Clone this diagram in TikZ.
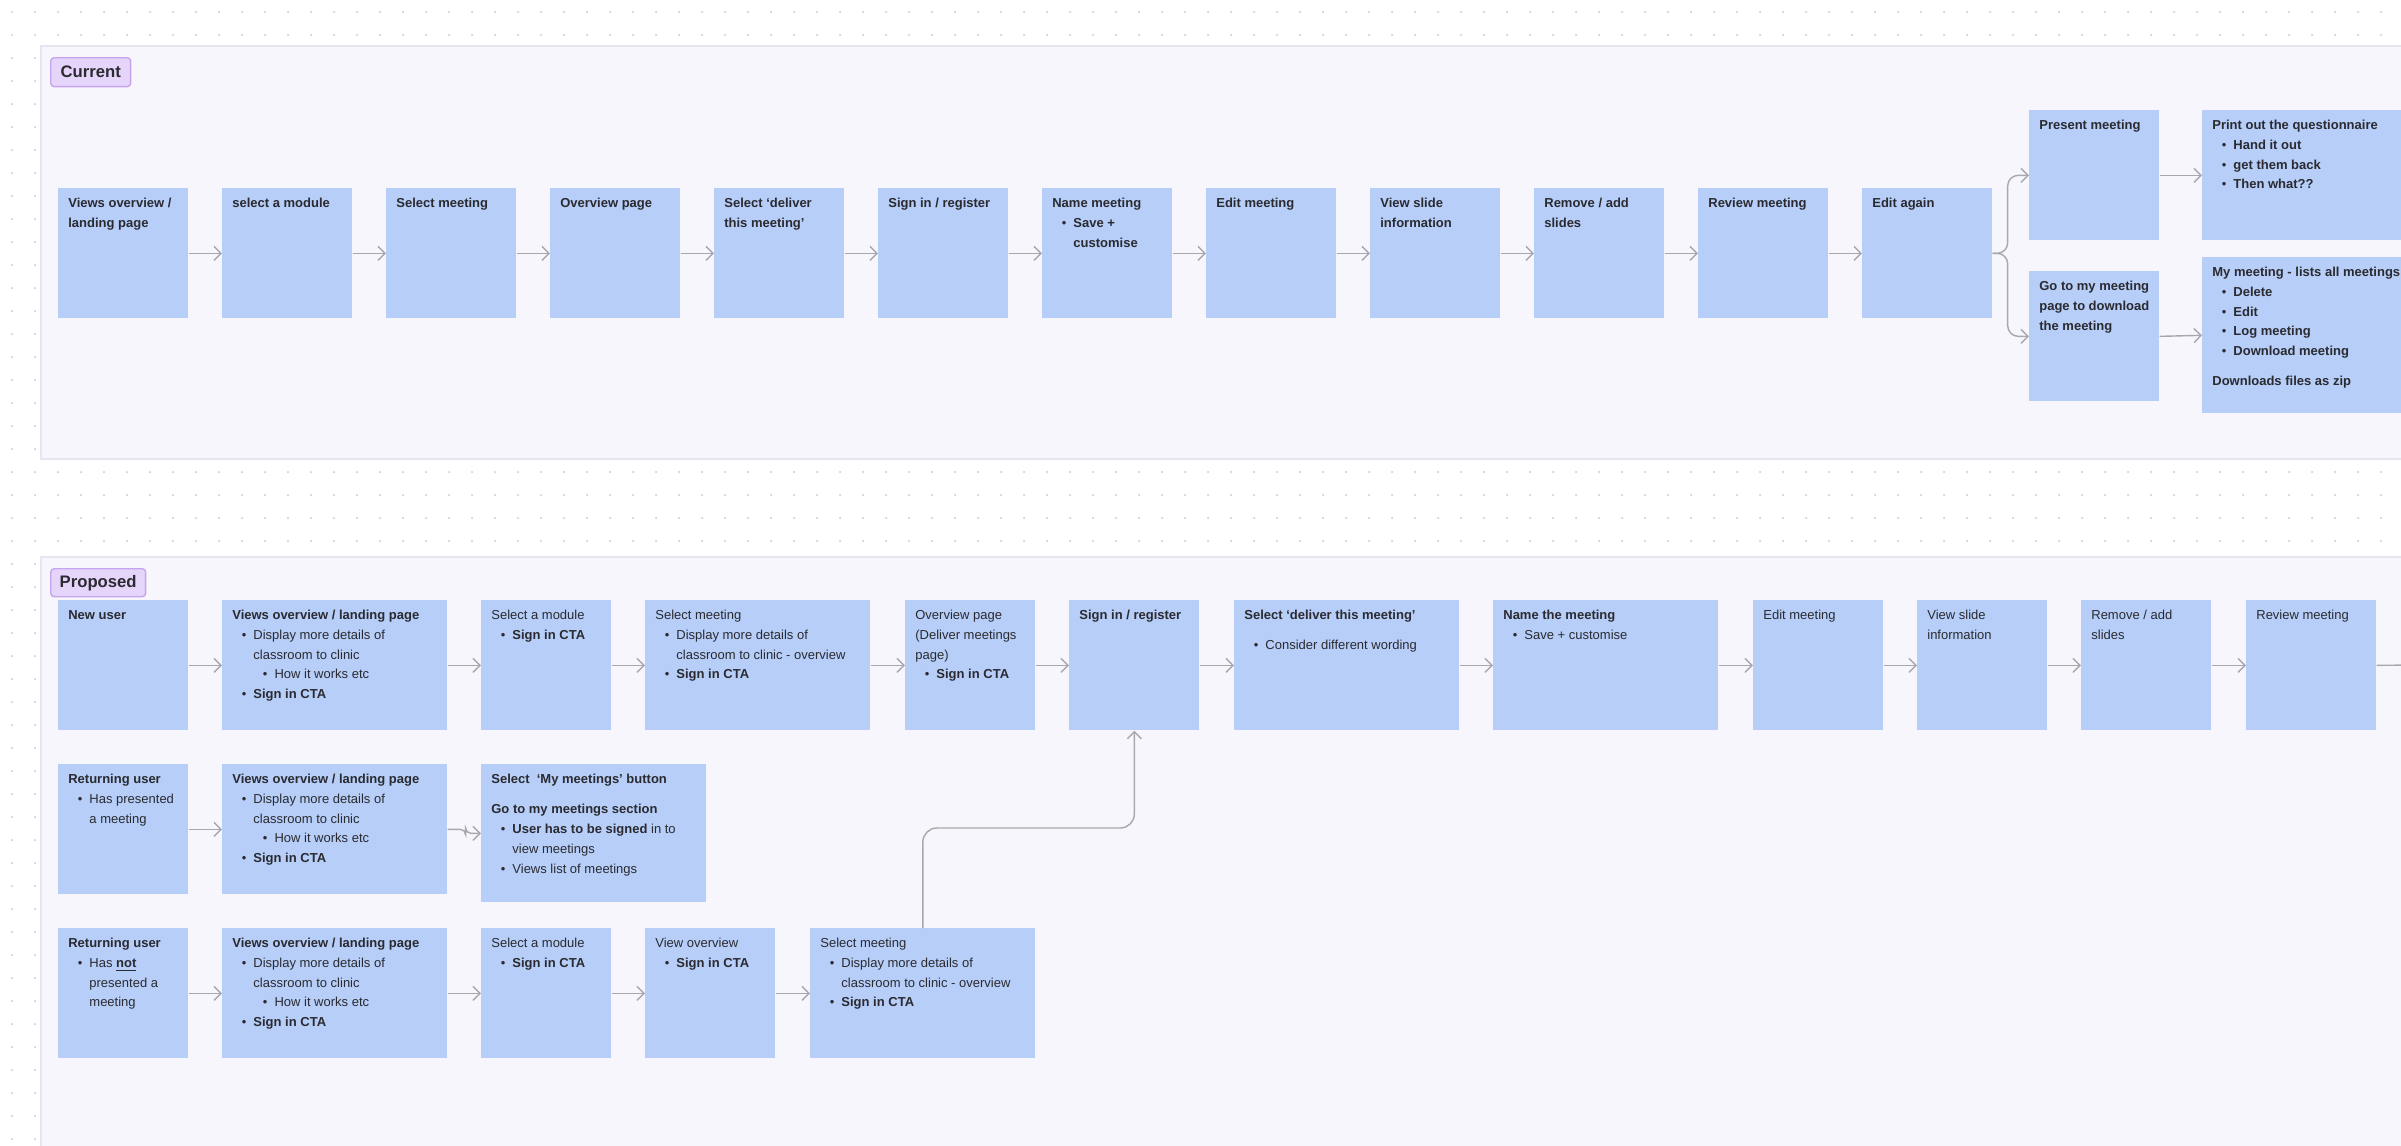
\documentclass[tikz,border=0pt]{standalone}
\usepackage{fontspec}
\setmainfont{Liberation Sans}
\usetikzlibrary{arrows.meta}

\definecolor{cardblue}{HTML}{B6CEF8}
\definecolor{panelbg}{HTML}{F8F6FD}
\definecolor{panelline}{HTML}{E8E4F0}
\definecolor{tagfill}{HTML}{E6D5FA}
\definecolor{tagline}{HTML}{C6A4EE}
\definecolor{flowgray}{HTML}{A8A8AC}
\definecolor{dotgray}{HTML}{D4D4D8}
\definecolor{inkgray}{HTML}{2A2A30}

\newcommand{\cardtxt}[3]{\parbox[t][#2][t]{#1}{\raggedright\fontsize{7.4}{11.2}\selectfont #3}}
\newcommand{\bul}{\par\noindent\hangindent=12pt\hangafter=1\hbox to 12pt{\hss\textbullet\hspace{4pt}}}
\newcommand{\subbul}{\par\noindent\hangindent=24pt\hangafter=1\hbox to 24pt{\hss\textbullet\hspace{4pt}}}

\tikzset{
  card/.style={anchor=north west, fill=cardblue, inner sep=0.2cm, text=inkgray},
  flow/.style={draw=flowgray, line width=0.8pt, -{Straight Barb[length=4pt,width=8pt]}},
  tag/.style={anchor=north west, fill=tagfill, draw=tagline, rounded corners=2pt, line width=0.8pt,
    font=\bfseries\fontsize{9.5}{11}\selectfont, text=inkgray, inner sep=0pt},
  panel/.style={fill=panelbg, draw=panelline, line width=0.6pt}
}

\begin{document}
\begin{tikzpicture}[x=0.02cm, y=-0.02cm]
  \useasboundingbox (0,0) rectangle (2401,1146);
  \clip (0,0) rectangle (2401,1146);
  \fill[white] (0,0) rectangle (2401,1146);
  \foreach \x in {12,35,...,2401}
    \foreach \y in {12,35,...,1146}
      \fill[dotgray] (\x,\y) circle (0.025cm);
  \draw[panel] (41,46) rectangle (2430,459);
  \draw[panel] (41,557) rectangle (2430,1160);
  \node[tag, minimum width=1.6cm, minimum height=0.58cm] (current) at (50,57) {Current};
  \node[tag, minimum width=1.9cm, minimum height=0.56cm] (proposed) at (50,568) {Proposed};

  % current journey
  \node[card] (views) at (58,188) {\cardtxt{2.2cm}{2.2cm}{\textbf{Views overview / landing page}}};
  \node[card] (module) at (222,188) {\cardtxt{2.2cm}{2.2cm}{\textbf{select a module}}};
  \node[card] (meeting) at (386,188) {\cardtxt{2.2cm}{2.2cm}{\textbf{Select meeting}}};
  \node[card] (overview) at (550,188) {\cardtxt{2.2cm}{2.2cm}{\textbf{Overview page}}};
  \node[card] (deliver) at (714,188) {\cardtxt{2.2cm}{2.2cm}{\textbf{Select ‘deliver this meeting’}}};
  \node[card] (signin) at (878,188) {\cardtxt{2.2cm}{2.2cm}{\textbf{Sign in / register}}};
  \node[card] (namemt) at (1042,188) {\cardtxt{2.2cm}{2.2cm}{\textbf{Name meeting}\bul\textbf{Save + customise}}};
  \node[card] (editmt) at (1206,188) {\cardtxt{2.2cm}{2.2cm}{\textbf{Edit meeting}}};
  \node[card] (slides) at (1370,188) {\cardtxt{2.2cm}{2.2cm}{\textbf{View slide information}}};
  \node[card] (remove) at (1534,188) {\cardtxt{2.2cm}{2.2cm}{\textbf{Remove / add slides}}};
  \node[card] (review) at (1698,188) {\cardtxt{2.2cm}{2.2cm}{\textbf{Review meeting}}};
  \node[card] (editagain) at (1862,188) {\cardtxt{2.2cm}{2.2cm}{\textbf{Edit again}}};
  \node[card] (present) at (2029,110) {\cardtxt{2.2cm}{2.2cm}{\textbf{Present meeting}}};
  \node[card] (gotomy) at (2029,271) {\cardtxt{2.2cm}{2.2cm}{\textbf{Go to my meeting page to download the meeting}}};
  \node[card] (printout) at (2202,110) {\cardtxt{4.3cm}{2.2cm}{\textbf{Print out the questionnaire}\bul\textbf{Hand it out}\bul\textbf{get them back}\bul\textbf{Then what??}}};
  \node[card] (mymeeting) at (2202,257) {\cardtxt{4.3cm}{2.72cm}{\textbf{My meeting - lists all meetings}\bul\textbf{Delete}\bul\textbf{Edit}\bul\textbf{Log meeting}\bul\textbf{Download meeting}\par\medskip\noindent\textbf{Downloads files as zip}}};
  \foreach \a/\b in {views/module, module/meeting, meeting/overview, overview/deliver, deliver/signin,
      signin/namemt, namemt/editmt, editmt/slides, slides/remove, remove/review, review/editagain,
      present/printout, gotomy/mymeeting}
    \draw[flow] (\a.east) -- (\b.west);
  \draw[flow, rounded corners=6pt] (editagain.east) -- ++(15,0) |- (present.west);
  \draw[flow, rounded corners=6pt] (editagain.east) -- ++(15,0) |- (gotomy.west);

  % proposed journey, new user
  \node[card] (newuser) at (58,600) {\cardtxt{2.2cm}{2.2cm}{\textbf{New user}}};
  \node[card] (pviews) at (222,600) {\cardtxt{4.1cm}{2.2cm}{\textbf{Views overview / landing page}\bul Display more details of classroom to clinic\subbul How it works etc\bul\textbf{Sign in CTA}}};
  \node[card] (pmodule) at (481,600) {\cardtxt{2.2cm}{2.2cm}{Select a module\bul\textbf{Sign in CTA}}};
  \node[card] (pmeeting) at (645,600) {\cardtxt{4.1cm}{2.2cm}{Select meeting\bul Display more details of classroom to clinic - overview\bul\textbf{Sign in CTA}}};
  \node[card] (poverview) at (905,600) {\cardtxt{2.2cm}{2.2cm}{Overview page (Deliver meetings page)\bul\textbf{Sign in CTA}}};
  \node[card] (psignin) at (1069,600) {\cardtxt{2.2cm}{2.2cm}{\textbf{Sign in / register}}};
  \node[card] (pdeliver) at (1234,600) {\cardtxt{4.1cm}{2.2cm}{\textbf{Select ‘deliver this meeting’}\par\medskip\bul Consider different wording}};
  \node[card] (pname) at (1493,600) {\cardtxt{4.1cm}{2.2cm}{\textbf{Name the meeting}\bul Save + customise}};
  \node[card] (pedit) at (1753,600) {\cardtxt{2.2cm}{2.2cm}{Edit meeting}};
  \node[card] (pslides) at (1917,600) {\cardtxt{2.2cm}{2.2cm}{View slide information}};
  \node[card] (premove) at (2081,600) {\cardtxt{2.2cm}{2.2cm}{Remove / add slides}};
  \node[card] (preview) at (2246,600) {\cardtxt{2.2cm}{2.2cm}{Review meeting}};
  \coordinate (offpage) at (2420,665);
  \foreach \a/\b in {newuser/pviews, pviews/pmodule, pmodule/pmeeting, pmeeting/poverview, poverview/psignin,
      psignin/pdeliver, pdeliver/pname, pname/pedit, pedit/pslides, pslides/premove, premove/preview}
    \draw[flow] (\a.east) -- (\b.west);
  \draw[flow] (preview.east) -- (offpage);

  % returning user who has presented
  \node[card] (retuser) at (58,764) {\cardtxt{2.2cm}{2.2cm}{\textbf{Returning user}\bul Has presented a meeting}};
  \node[card] (rviews) at (222,764) {\cardtxt{4.1cm}{2.2cm}{\textbf{Views overview / landing page}\bul Display more details of classroom to clinic\subbul How it works etc\bul\textbf{Sign in CTA}}};
  \node[card] (rmymeet) at (481,764) {\cardtxt{4.1cm}{2.36cm}{\textbf{Select \ ‘My meetings’ button}\par\medskip\noindent\textbf{Go to my meetings section}\bul\textbf{User has to be signed} in to view meetings\bul Views list of meetings}};
  \draw[flow] (retuser.east) -- (rviews.west);
  \draw[flow, rounded corners=3pt] (rviews.east) -- ++(18,0) |- (rmymeet.west);

  % returning user who has not presented
  \node[card] (notuser) at (58,928) {\cardtxt{2.2cm}{2.2cm}{\textbf{Returning user}\bul Has \textbf{\underline{not}} presented a meeting}};
  \node[card] (nviews) at (222,928) {\cardtxt{4.1cm}{2.2cm}{\textbf{Views overview / landing page}\bul Display more details of classroom to clinic\subbul How it works etc\bul\textbf{Sign in CTA}}};
  \node[card] (nmodule) at (481,928) {\cardtxt{2.2cm}{2.2cm}{Select a module\bul\textbf{Sign in CTA}}};
  \node[card] (noverview) at (645,928) {\cardtxt{2.2cm}{2.2cm}{View overview\bul\textbf{Sign in CTA}}};
  \node[card] (nmeeting) at (810,928) {\cardtxt{4.1cm}{2.2cm}{Select meeting\bul Display more details of classroom to clinic - overview\bul\textbf{Sign in CTA}}};
  \foreach \a/\b in {notuser/nviews, nviews/nmodule, nmodule/noverview, noverview/nmeeting}
    \draw[flow] (\a.east) -- (\b.west);
  \draw[flow, rounded corners=8pt] (nmeeting.north) -- ++(0,-100) -| (psignin.south);
\end{tikzpicture}
\end{document}
